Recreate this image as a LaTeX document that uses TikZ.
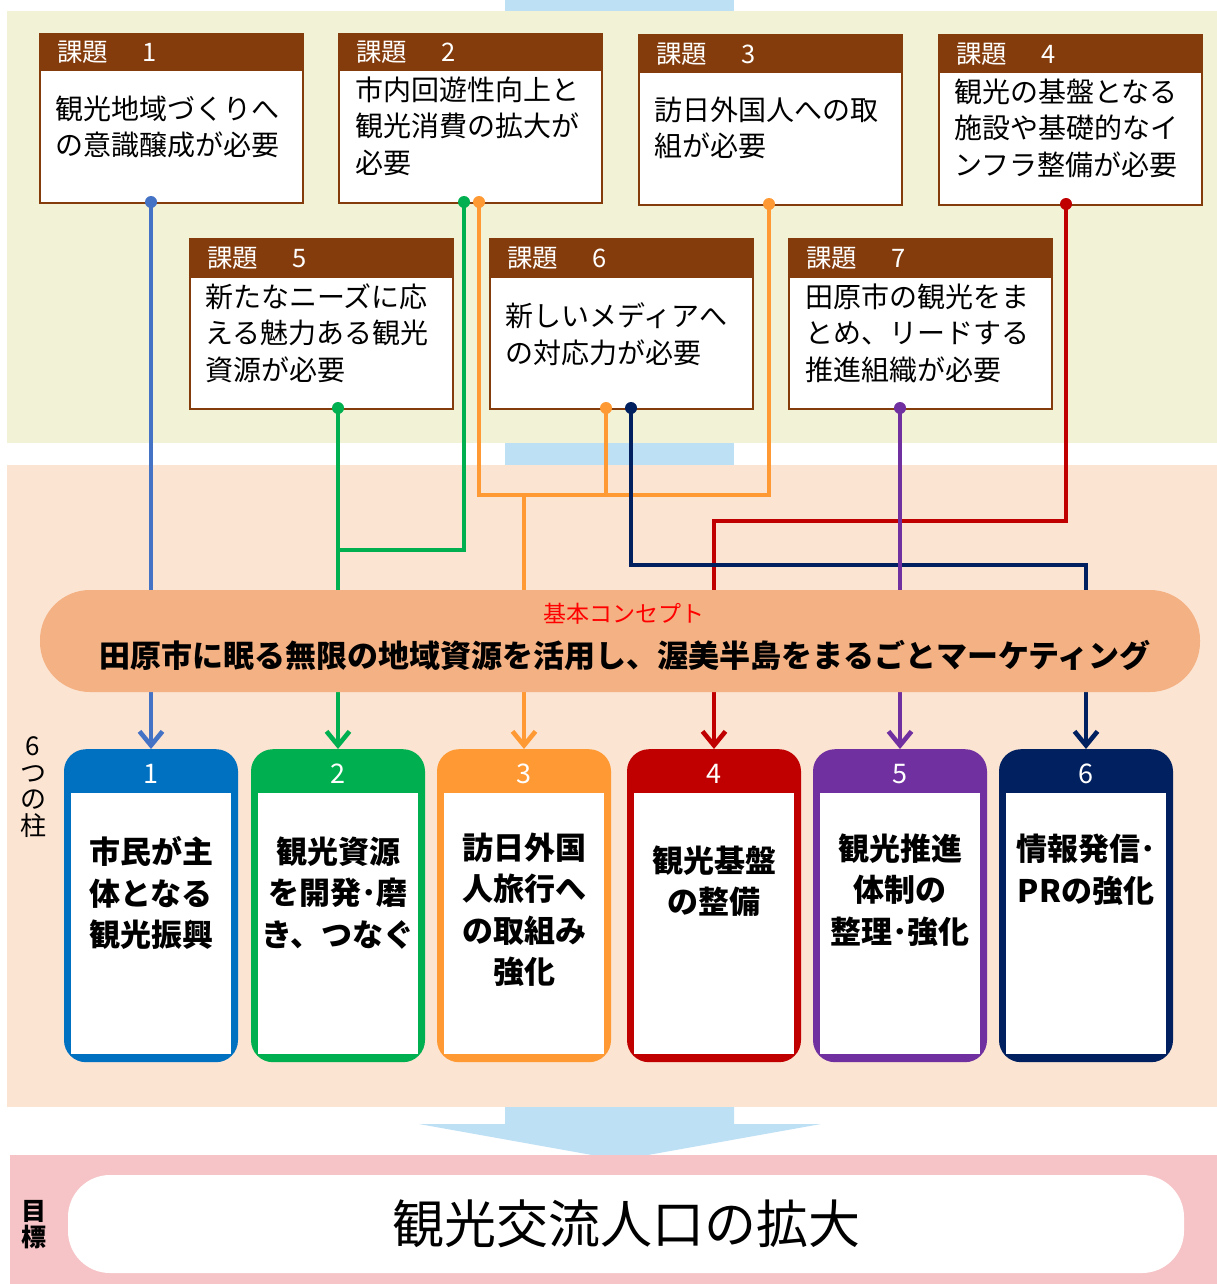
\documentclass[tikz,border=0pt]{standalone}
\usepackage{fontspec}
\setmainfont{Noto Sans CJK JP}
\usetikzlibrary{arrows.meta,calc}
\definecolor{bandG}{RGB}{242,242,214}
\definecolor{bandP}{RGB}{252,228,210}
\definecolor{lblue}{RGB}{190,224,244}
\definecolor{pinkb}{RGB}{246,196,199}
\definecolor{concept}{RGB}{244,177,131}
\definecolor{kbrown}{HTML}{843C0C}
\definecolor{cBlue}{HTML}{4472C4}
\definecolor{cBlueP}{HTML}{0070C0}
\definecolor{cGreen}{HTML}{00B050}
\definecolor{cOrange}{HTML}{FF9933}
\definecolor{cRed}{HTML}{C00000}
\definecolor{cPurple}{HTML}{7030A0}
\definecolor{cNavy}{HTML}{002060}
\definecolor{cText}{HTML}{FF0000}
\newcommand\fs[2]{\fontsize{#1pt}{#2pt}\selectfont}
\tikzset{
  issuebody/.style={draw=kbrown, line width=1.5pt, fill=white, inner sep=0pt, minimum width=263pt, anchor=north west},
  issuehead/.style={fill=kbrown, draw=kbrown, line width=1.5pt, inner sep=0pt, minimum width=263pt, anchor=north west},
  headtext/.style={text=white, font=\fs{25.5}{25.5}, anchor=west, inner sep=0pt},
  bodytext/.style={font=\fs{28}{36.5}, align=left, anchor=west, inner sep=0pt},
  conn/.style={line width=4.6pt},
  jdot/.style={circle, fill, inner sep=0pt, minimum size=12pt},
  arrowend/.style={-{Straight Barb[length=14pt,width=23pt,line width=4.6pt]}},
  pillar/.style={rounded corners=22pt, minimum width=174pt, minimum height=313pt, inner sep=0pt, anchor=north},
  pillarin/.style={fill=white, minimum width=160pt, minimum height=261pt, inner sep=0pt, anchor=north},
  pnum/.style={text=white, font=\fs{27}{27}, inner sep=0pt},
  ptext/.style={font=\bfseries\fs{31}{41.5}, align=center, inner sep=0pt},
}
\begin{document}
\begin{tikzpicture}[x=1pt,y=-1pt]
\useasboundingbox (0,0) rectangle (1217,1284);
% bands
\fill[white] (0,0) rectangle (1217,1284);
\fill[lblue] (505,0) rectangle (734,11);
\fill[bandG] (7,11) rectangle (1217,443);
\fill[lblue] (505,443) rectangle (734,465);
\fill[bandP] (7,465) rectangle (1217,1107);
\fill[lblue] (505,1107) -- (734,1107) -- (734,1124) -- (821,1124) -- (620,1160) -- (419,1124) -- (505,1124) -- cycle;
\fill[pinkb] (10,1155) rectangle (1217,1284);

% issue boxes row 1
\node[issuebody, minimum height=169pt] (k1) at (39,33) {};
\node[issuehead, minimum height=37pt] (h1) at (39,33) {};
\node[headtext] (t1) at (57,52) {課題\hspace{34pt}1};
\node[bodytext] (b1) at (55,127) {観光地域づくりへ\\の意識醸成が必要};

\node[issuebody, minimum height=169pt] (k2) at (338,33) {};
\node[issuehead, minimum height=37pt] (h2) at (338,33) {};
\node[headtext] (t2) at (356,52) {課題\hspace{34pt}2};
\node[bodytext] (b2) at (355,126) {市内回遊性向上と\\観光消費の拡大が\\必要};

\node[issuebody, minimum height=170pt] (k3) at (638,34) {};
\node[issuehead, minimum height=38pt] (h3) at (638,34) {};
\node[headtext] (t3) at (656,54) {課題\hspace{34pt}3};
\node[bodytext] (b3) at (654,128) {訪日外国人への取\\組が必要};

\node[issuebody, minimum height=170pt] (k4) at (938,34) {};
\node[issuehead, minimum height=38pt] (h4) at (938,34) {};
\node[headtext] (t4) at (956,54) {課題\hspace{34pt}4};
\node[bodytext] (b4) at (954,128) {観光の基盤となる\\施設や基礎的なイ\\ンフラ整備が必要};

% issue boxes row 2
\node[issuebody, minimum height=170pt] (k5) at (189,238) {};
\node[issuehead, minimum height=38pt] (h5) at (189,238) {};
\node[headtext] (t5) at (207,258) {課題\hspace{34pt}5};
\node[bodytext] (b5) at (205,333) {新たなニーズに応\\える魅力ある観光\\資源が必要};

\node[issuebody, minimum height=170pt] (k6) at (489,238) {};
\node[issuehead, minimum height=38pt] (h6) at (489,238) {};
\node[headtext] (t6) at (507,258) {課題\hspace{34pt}6};
\node[bodytext] (b6) at (505,334) {新しいメディアへ\\の対応力が必要};

\node[issuebody, minimum height=170pt] (k7) at (788,238) {};
\node[issuehead, minimum height=38pt] (h7) at (788,238) {};
\node[headtext] (t7) at (806,258) {課題\hspace{34pt}7};
\node[bodytext] (b7) at (805,333) {田原市の観光をま\\とめ、リードする\\推進組織が必要};

% pillars
\node[pillar, fill=cBlueP] (p1) at (151,749) {};
\node[pillar, fill=cGreen] (p2) at (338,749) {};
\node[pillar, fill=cOrange] (p3) at (524,749) {};
\node[pillar, fill=cRed] (p4) at (714,749) {};
\node[pillar, fill=cPurple] (p5) at (900,749) {};
\node[pillar, fill=cNavy] (p6) at (1086,749) {};
\foreach \i in {1,...,6}{
  \node[pillarin] (q\i) at ($(p\i.north)+(0,44)$) {};
  \node[pnum] (n\i) at ($(p\i.north)+(0,25)$) {\i};
}
\node[ptext] (r1) at (151,893) {市民が主\\体となる\\観光振興};
\node[ptext] (r2) at (338,893) {観光資源\\を開発･磨\\き、つなぐ};
\node[ptext] (r3) at (524,910) {訪日外国\\人旅行へ\\の取組み\\強化};
\node[ptext] (r4) at (714,881) {観光基盤\\の整備};
\node[ptext] (r5) at (900,890) {観光推進\\体制の\\整理･強化};
\node[ptext] (r6) at (1086,870) {情報発信･\\PRの強化};

% connector start points
\coordinate (s1) at (151,202);
\coordinate (s2g) at (464,202);
\coordinate (s2o) at (479,202);
\coordinate (s3) at (769,204);
\coordinate (s4) at (1066,204);
\coordinate (s5) at (338,408);
\coordinate (s6o) at (606,408);
\coordinate (s6n) at (631,408);
\coordinate (s7) at (900,408);

% connectors
\draw[conn, cBlue, arrowend] (s1) -- (p1.north);
\draw[conn, cGreen] (s5) -- (s5 |- 0,550);
\draw[conn, cGreen, arrowend] (s2g) -- (s2g |- 0,550) -| (p2.north);
\draw[conn, cOrange] (s2o) -- (s2o |- 0,495) -- (s3 |- 0,495) -- (s3);
\draw[conn, cOrange] (s6o) -- (s6o |- 0,495);
\draw[conn, cOrange, arrowend] (p3.north |- 0,495) -- (p3.north);
\draw[conn, cRed, arrowend] (s4) -- (s4 |- 0,521) -| (p4.north);
\draw[conn, cNavy, arrowend] (s6n) -- (s6n |- 0,565) -| (p6.north);
\draw[conn, cPurple, arrowend] (s7) -- (p5.north);
\node[jdot, cBlue] at (s1) {};
\node[jdot, cGreen] at (s2g) {};
\node[jdot, cGreen] at (s5) {};
\node[jdot, cOrange] at (s2o) {};
\node[jdot, cOrange] at (s3) {};
\node[jdot, cOrange] at (s6o) {};
\node[jdot, cRed] at (s4) {};
\node[jdot, cNavy] at (s6n) {};
\node[jdot, cPurple] at (s7) {};

% concept
\node[fill=concept, rounded corners=50pt, minimum width=1160pt, minimum height=102pt, inner sep=0pt] (cc) at (620,641) {};
\node[text=cText, font=\fs{23}{23}, inner sep=0pt] (cl) at (624,614) {基本コンセプト};
\node[font=\bfseries\fs{31}{31}, inner sep=0pt] (ct) at (625,655) {田原市に眠る無限の地域資源を活用し、渥美半島をまるごとマーケティング};

% side labels
\node[font=\fs{26}{26.5}, align=center, inner sep=0pt] (lab6) at (33,787) {6\\つ\\の\\柱};
\node[font=\bfseries\fs{25}{26}, align=center, inner sep=0pt] (labg) at (34,1225) {目\\標};

% goal
\node[fill=white, rounded corners=42pt, minimum width=1116pt, minimum height=98pt, inner sep=0pt, font=\fs{52}{52}] (goal) at (626,1224) {観光交流人口の拡大};
\end{tikzpicture}
\end{document}
